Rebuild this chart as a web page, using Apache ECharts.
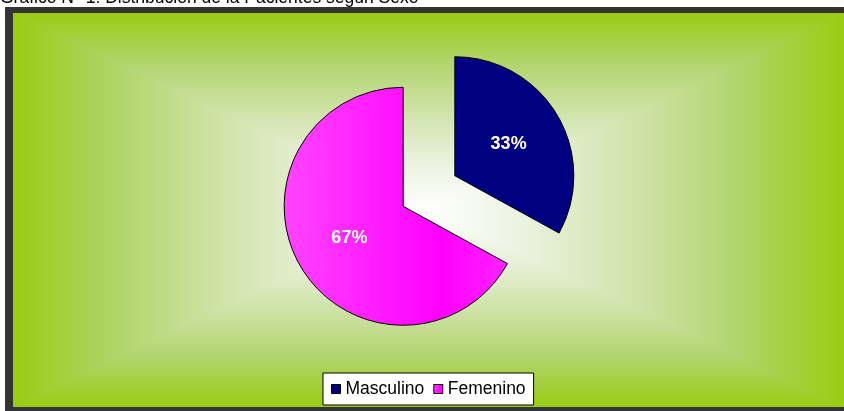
<!DOCTYPE html>
<html>
<head>
<meta charset="utf-8">
<script src="https://cdn.jsdelivr.net/npm/echarts@6/dist/echarts.min.js"></script>
<style>
html,body{margin:0;padding:0;background:#fff;}
#chart{width:844px;height:411px;}
</style>
</head>
<body>
<div id="chart"></div>
<script>
// datos del grafico
var titulo = 'Gráfico N° 1: Distribución de la Pacientes según Sexo';
var categorias = ['Masculino', 'Femenino'];
var valores = [33, 67];
var colores = ['#000080', '#FF22FF'];

// fondo: degradado rectangular desde el centro (como Excel)
var x0 = 13, y0 = 13, x1 = 844, y1 = 407;
var cx = 428, cy = 210;
var paradas = [[0, '#99CC11'], [0.25, '#B0D46A'], [0.5, '#CFE3A8'], [0.75, '#E9F1DC'], [1, '#FFFFFF']];
function grad(dx, dy, fromGreen){
	var st = paradas.map(function(p){
		return {offset: fromGreen ? p[0] : 1 - p[0], color: p[1]};
	});
	st.sort(function(a, b){ return a.offset - b.offset; });
	return new echarts.graphic.LinearGradient(0, 0, dx, dy, st);
}
function tri(pts, dx, dy, fromGreen){
	var g = grad(dx, dy, fromGreen);
	return {type: 'polygon', shape: {points: pts}, style: {fill: g, stroke: g, lineWidth: 1}, z: -8};
}

var option = {
	animation: false,
	graphic: [
		{type: 'rect', shape: {x: 5, y: 7, width: 839, height: 404}, style: {fill: '#333333'}, z: -10},
		{type: 'rect', shape: {x: x0, y: y0, width: x1 - x0, height: y1 - y0}, style: {fill: '#d8e9bb'}, z: -9},
		tri([[x0, y0], [x1, y0], [cx, cy]], 0, 1, true),
		tri([[x0, y1], [x1, y1], [cx, cy]], 0, 1, false),
		tri([[x0, y0], [x0, y1], [cx, cy]], 1, 0, true),
		tri([[x1, y0], [x1, y1], [cx, cy]], 1, 0, false),
		{type: 'rect', shape: {x: 5, y: 7, width: 839, height: 6}, style: {fill: '#333333'}, z: -7},
		{type: 'rect', shape: {x: 5, y: 7, width: 8, height: 404}, style: {fill: '#333333'}, z: -7},
		{type: 'rect', shape: {x: 5, y: 407, width: 839, height: 4}, style: {fill: '#333333'}, z: -7},
		{type: 'text', x: 0, y: -2, style: {text: titulo, fill: '#000', font: '17.5px "Liberation Sans", Arial, sans-serif', verticalAlign: 'middle'}, z: 5}
	],
	legend: {
		data: categorias,
		left: 323,
		top: 373,
		orient: 'horizontal',
		backgroundColor: '#ffffff',
		borderColor: '#000000',
		borderWidth: 1,
		borderRadius: 0,
		padding: [7, 8, 7, 8],
		itemWidth: 9,
		itemHeight: 9,
		itemGap: 9,
		icon: 'rect',
		itemStyle: {borderColor: '#000', borderWidth: 1},
		textStyle: {color: '#000', fontSize: 17.5, fontFamily: '"Liberation Sans", Arial, sans-serif'}
	},
	series: [
		{
			name: 'Sexo',
			type: 'pie',
			center: [429, 191],
			radius: 119,
			startAngle: 90,
			clockwise: true,
			selectedMode: 'multiple',
			selectedOffset: 30,
			avoidLabelOverlap: false,
			itemStyle: {borderColor: '#000', borderWidth: 1},
			label: {
				show: true,
				position: 'inside',
				formatter: '{c}%',
				color: '#fff',
				fontSize: 18,
				fontWeight: 'bold',
				fontFamily: '"Liberation Sans", Arial, sans-serif'
			},
			labelLine: {show: false},
			emphasis: {disabled: true},
			data: categorias.map(function(n, i){
				var col = colores[i];
				if (i == 1) {
					col = new echarts.graphic.LinearGradient(0, 0, 1, 0, [
						{offset: 0, color: '#FF44FF'}, {offset: 0.7, color: '#FF00FF'}, {offset: 1, color: '#FF22FF'}
					]);
				}
				return {name: n, value: valores[i], selected: true, itemStyle: {color: col}};
			})
		}
	]
};

var myChart = echarts.init(document.getElementById('chart'));
myChart.setOption(option);
</script>
</body>
</html>
